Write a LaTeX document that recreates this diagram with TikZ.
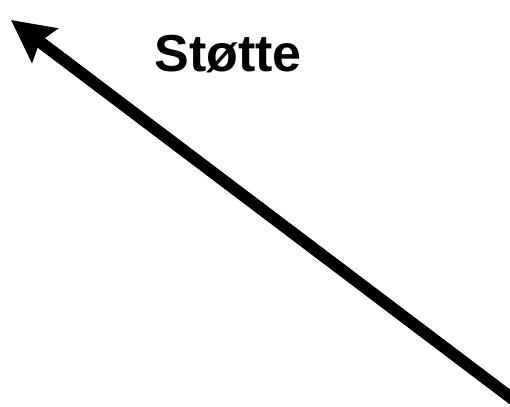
\documentclass[tikz,border=0pt]{standalone}
\usepackage{fontspec}
\setmainfont{Liberation Sans}
\usetikzlibrary{arrows.meta}
\begin{document}
\begin{tikzpicture}[x=1pt,y=-1pt,
  bigarrow/.style={line width=12pt,-{Stealth[length=42pt,width=42pt,inset=6pt]}},
  lbl/.style={font=\fontsize{52pt}{62pt}\selectfont\bfseries,anchor=base,inner sep=0pt}]
\useasboundingbox (0,0) rectangle (510,406);
\clip (0,0) rectangle (510,406);
\coordinate (start) at (518,403);
\coordinate (tip) at (11,20);
\draw[bigarrow] (start) -- (tip);
\node[lbl] (label) at (228,72) {Støtte};
\end{tikzpicture}
\end{document}
